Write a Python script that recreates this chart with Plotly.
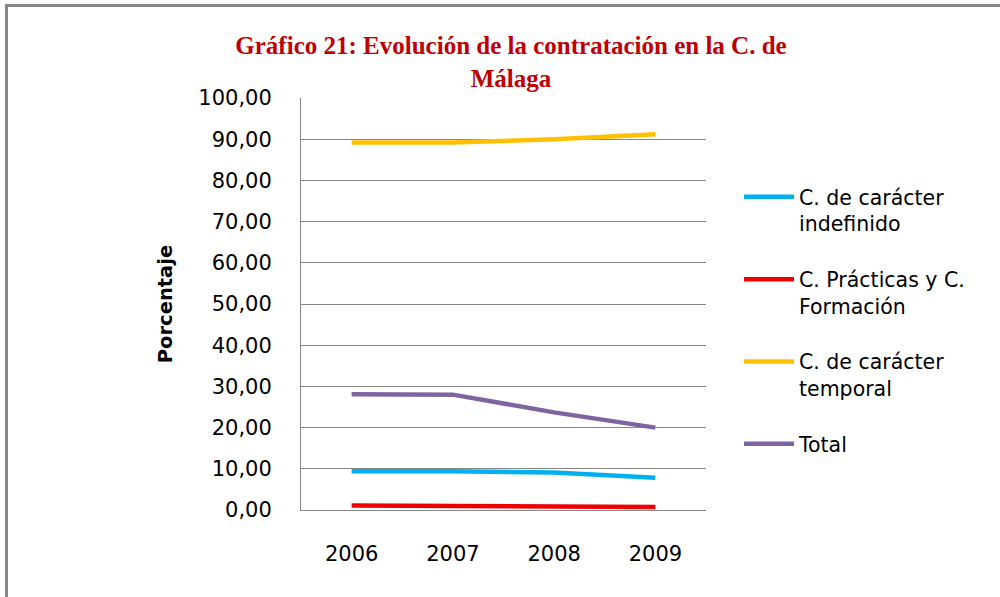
import plotly.graph_objects as go

years = ["2006", "2007", "2008", "2009"]
indefinido = [9.4, 9.4, 9.1, 7.8]
practicas = [1.1, 1.0, 0.7, 0.7]
temporal = [89.2, 89.2, 90.0, 91.2]
total = [28.1, 28.0, 23.7, 20.0]

series_names = ["C. de carácter<br>indefinido", "C. Prácticas y C.<br>Formación",
                "C. de carácter<br>temporal", "Total"]
series_values = [indefinido, practicas, temporal, total]
series_colors = ["#00B0F0", "#EE0000", "#FFC000", "#8064A2"]

y_ticks = [0, 10, 20, 30, 40, 50, 60, 70, 80, 90, 100]

W, H = 1000, 597
L, R, T, B = 301, 706, 98, 510

fig = go.Figure()
for i, (name, vals, col) in enumerate(zip(series_names, series_values, series_colors)):
    fig.add_trace(go.Scatter(x=years, y=vals, name=name, mode="lines",
                             line=dict(color=col, width=4.5),
                             legendgroup=f"g{i}"))

grid = "#878787"
tickfont = dict(family="DejaVu Sans", size=21, color="#000000")

fig.update_layout(
    width=W, height=H,
    margin=dict(l=L, r=W - R, t=T, b=H - B, pad=0),
    paper_bgcolor="white", plot_bgcolor="white",
    separators=",.",
    title=dict(text="Gráfico 21: Evolución de la contratación en la C. de<br>Málaga",
               font=dict(family="Liberation Serif", size=25, color="#C00000", weight="bold"),
               x=0.511, xanchor="center", xref="container",
               y=1 - 54 / H, yanchor="top", yref="container"),
    xaxis=dict(type="category", range=[-0.5, 3.5], showgrid=False,
               showline=True, linecolor=grid, linewidth=1, ticks="",
               tickfont=tickfont, ticklabelstandoff=25, zeroline=False),
    yaxis=dict(range=[0, 100], tickvals=y_ticks, tickformat=".2f",
               showgrid=True, gridcolor=grid, gridwidth=1,
               showline=True, linecolor=grid, linewidth=1, ticks="",
               tickfont=tickfont, ticklabelstandoff=24, zeroline=False,
               title=dict(text="Porcentaje", standoff=20,
                          font=dict(family="DejaVu Sans", size=19.5, color="#000000",
                                    weight="bold"))),
    legend=dict(x=(739 - L) / (R - L), y=(B - 177) / (B - T), xanchor="left", yanchor="top",
                font=dict(family="DejaVu Sans", size=20.5, color="#000000"),
                tracegroupgap=26, valign="top", bgcolor="rgba(0,0,0,0)",
                itemwidth=50),
    showlegend=True,
)

# outer chart border (partially visible: left and top edges)
fig.add_shape(type="rect", xref="paper", yref="paper",
              x0=(6.5 - L) / (R - L), x1=(1010 - L) / (R - L),
              y0=(B - 610) / (B - T), y1=(B - 5.5) / (B - T),
              line=dict(color=grid, width=3), fillcolor="rgba(0,0,0,0)", layer="below")

fig.write_html("out.html", config={"displayModeBar": False},
               post_script="document.body.style.margin='0';document.body.style.overflow='hidden';")
